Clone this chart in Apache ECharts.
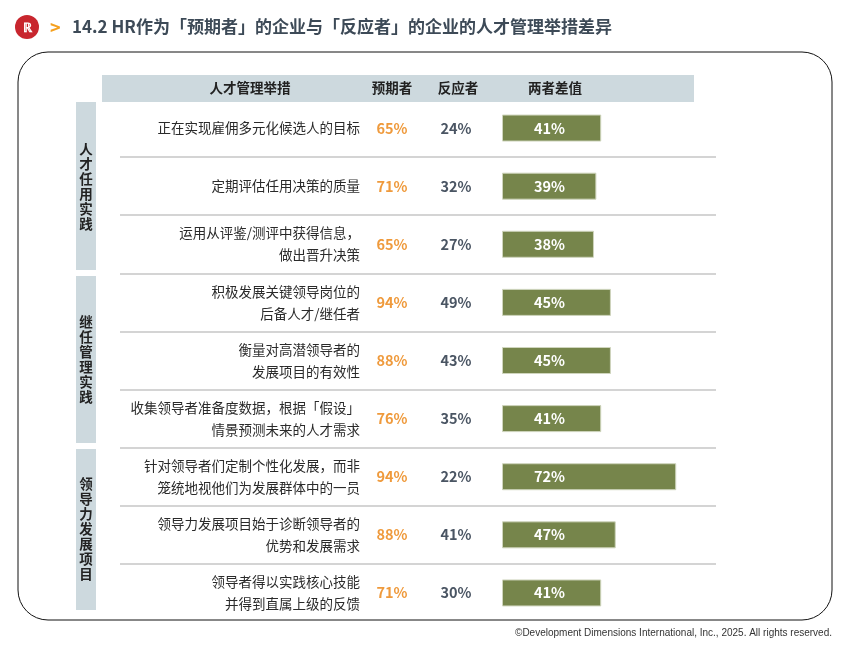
<!DOCTYPE html>
<html><head><meta charset="utf-8">
<script src="https://cdn.jsdelivr.net/npm/echarts@6/dist/echarts.min.js"></script>
<style>html,body{margin:0;padding:0;background:#fff}#c{width:849px;height:649px}</style>
</head><body><div id="c"></div>
<script>
const measures = ['正在实现雇佣多元化候选人的目标','定期评估任用决策的质量','运用从评鉴/测评中获得信息，\n做出晋升决策','积极发展关键领导岗位的\n后备人才/继任者','衡量对高潜领导者的\n发展项目的有效性','收集领导者准备度数据，根据「假设」\n情景预测未来的人才需求','针对领导者们定制个性化发展，而非\n笼统地视他们为发展群体中的一员','领导力发展项目始于诊断领导者的\n优势和发展需求','领导者得以实践核心技能\n并得到直属上级的反馈'];
const anticipators = [65,71,65,94,88,76,94,88,71];
const reactors = [24,32,27,49,43,35,22,41,30];
const differences = [41,39,38,45,45,41,72,47,41];
const groups = ['人才任用实践','继任管理实践','领导力发展项目'];
const headers = ['人才管理举措','预期者','反应者','两者差值'];
const idx = measures.map((_, i) => i);
const F = 'Noto Sans CJK SC';
const vert = s => s.split('').join('\n');
const chart = echarts.init(document.getElementById('c'));
const gTop = 99, gH = 523;
chart.setOption({
  textStyle:{fontFamily:F},
  animation:false,
  grid:[{left:502,top:gTop,width:242,height:gH},{left:120,top:gTop,width:596,height:gH}],
  xAxis:[{gridIndex:0,type:'value',min:0,max:100,show:false},{gridIndex:1,type:'value',show:false}],
  yAxis:[
    {gridIndex:0,type:'category',position:'left',offset:0,data:measures,inverse:true,axisLine:{show:false},axisTick:{show:false},
     axisLabel:{margin:142,fontSize:13.5,color:'#2a2a2a',lineHeight:22,fontFamily:F}},
    {gridIndex:0,type:'category',position:'left',offset:0,data:idx,inverse:true,axisLine:{show:false},axisTick:{show:false},
     axisLabel:{margin:110,align:'center',fontSize:14.5,color:'#ef9a3c',fontWeight:'bold',formatter:v=>anticipators[v]+'%'}},
    {gridIndex:0,type:'category',position:'left',offset:0,data:idx,inverse:true,axisLine:{show:false},axisTick:{show:false},
     axisLabel:{margin:46,align:'center',fontSize:14.5,color:'#4a5563',fontWeight:'bold',formatter:v=>reactors[v]+'%'}},
    {gridIndex:1,type:'category',data:idx,inverse:true,axisLine:{show:false},axisTick:{show:false},axisLabel:{show:false},
     splitLine:{show:true,lineStyle:{color:'#d4d4d4',width:2}}}
  ],
  series:[
    {type:'bar',xAxisIndex:0,yAxisIndex:0,data:differences,barWidth:27,
     itemStyle:{color:'#76854b',borderColor:'#cfd5bd',borderWidth:1},
     label:{show:true,position:'insideLeft',distance:32,color:'#fff',fontSize:14.5,fontWeight:'bold',formatter:p=>p.value+'%'}}
  ],
  graphic:[
    {type:'rect',shape:{x:120,y:618,width:600,height:6},style:{fill:'#fff'},z:5},
    {type:'rect',shape:{x:110,y:96,width:612,height:5},style:{fill:'#fff'},z:5},
    {type:'rect',shape:{x:18,y:52,width:814,height:568,r:30},style:{fill:'none',stroke:'#111',lineWidth:1},z:6},
    {type:'rect',shape:{x:102,y:75,width:592,height:27},style:{fill:'#cdd9de'},z:10},
    {type:'text',x:250,y:88,style:{text:headers[0],font:'bold 13.5px '+F,fill:'#222',align:'center',verticalAlign:'middle'},z:11},
    {type:'text',x:392,y:88,style:{text:headers[1],font:'bold 13.5px '+F,fill:'#222',align:'center',verticalAlign:'middle'},z:11},
    {type:'text',x:458,y:88,style:{text:headers[2],font:'bold 13.5px '+F,fill:'#222',align:'center',verticalAlign:'middle'},z:11},
    {type:'text',x:555,y:88,style:{text:headers[3],font:'bold 13.5px '+F,fill:'#222',align:'center',verticalAlign:'middle'},z:11},
    {type:'rect',shape:{x:76,y:102,width:20,height:168},style:{fill:'#cdd9de'},z:11},
    {type:'rect',shape:{x:76,y:276,width:20,height:167},style:{fill:'#cdd9de'}},
    {type:'rect',shape:{x:76,y:449,width:20,height:161},style:{fill:'#cdd9de'}},
    {type:'text',x:86,y:186,style:{text:vert(groups[0]),font:'bold 13.5px '+F,lineHeight:15,fill:'#222',align:'center',verticalAlign:'middle'},z:12},
    {type:'text',x:86,y:359,style:{text:vert(groups[1]),font:'bold 13.5px '+F,lineHeight:15,fill:'#222',align:'center',verticalAlign:'middle'},z:11},
    {type:'text',x:86,y:529,style:{text:vert(groups[2]),font:'bold 13.5px '+F,lineHeight:15,fill:'#222',align:'center',verticalAlign:'middle'},z:11},
    {type:'circle',shape:{cx:27,cy:27,r:12},style:{fill:'#c8262e'}},
    {type:'text',x:27,y:27,style:{text:'ℝ',font:'bold 13px '+F,fill:'#fff',align:'center',verticalAlign:'middle'}},
    {type:'text',x:50,y:27,style:{text:'>',font:'bold 18px '+F,fill:'#f5a01e',verticalAlign:'middle'}},
    {type:'text',x:72,y:27,style:{text:'14.2 HR作为「预期者」的企业与「反应者」的企业的人才管理举措差异',font:'bold 17px '+F,fill:'#3d4a57',verticalAlign:'middle'}},
    {type:'text',x:832,y:633,style:{text:'©Development Dimensions International, Inc., 2025. All rights reserved.',font:'10px Liberation Sans',fill:'#333',align:'right',verticalAlign:'middle'}}
  ]
});
</script></body></html>
